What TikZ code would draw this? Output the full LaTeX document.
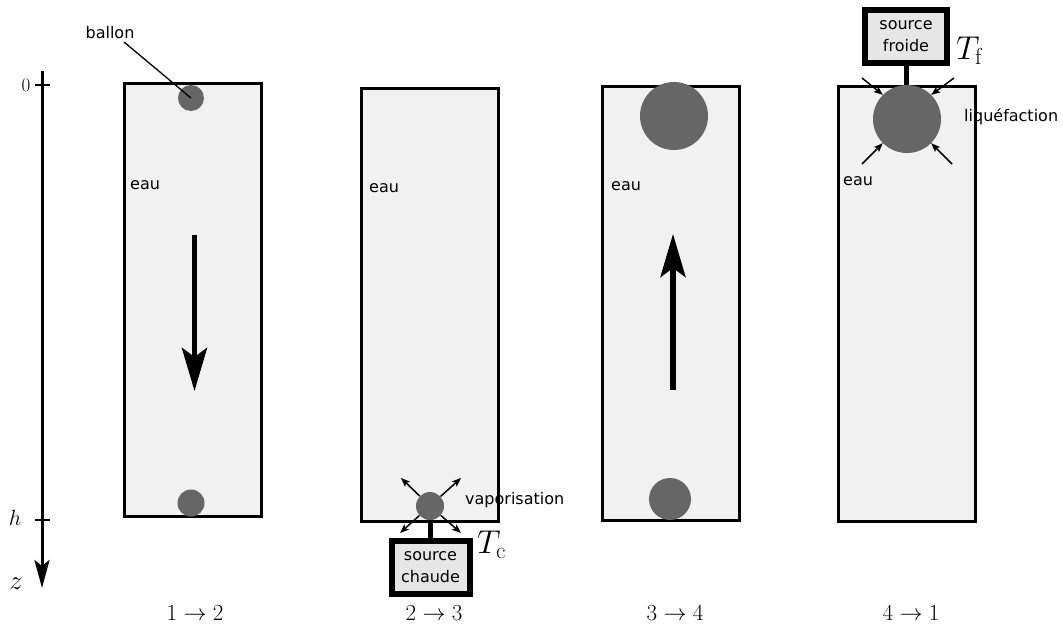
\RequirePackage{fix-cm}
\documentclass[tikz,border=0pt]{standalone}
\usepackage{fontspec}
\newfontfamily\dv{DejaVu Sans}
\usetikzlibrary{arrows.meta}
\definecolor{tankfill}{HTML}{F1F1F1}
\definecolor{srcfill}{HTML}{E6E6E6}
\definecolor{ballc}{HTML}{666666}
\tikzset{
  tank/.style={draw=black, line width=3pt, fill=tankfill, inner sep=0pt},
  ball/.style={circle, fill=ballc, inner sep=0pt},
  src/.style={draw=black, line width=6pt, fill=srcfill, inner sep=0pt, align=center,
    font=\dv\fontsize{16}{22}\selectfont},
  lbl/.style={font=\dv\fontsize{16}{20}\selectfont, inner sep=0pt},
  mlbl/.style={font=\fontsize{23}{26}\selectfont, inner sep=0pt},
  tlbl/.style={font=\fontsize{33}{36}\selectfont, inner sep=0pt, anchor=west},
  bigarrow/.style={line width=5.5pt, -{Stealth[length=43pt, width=25pt, inset=9pt]}},
  axisarrow/.style={line width=3pt, -{Stealth[length=28pt, width=15pt, inset=6pt]}},
  smallarrow/.style={line width=1.5pt, -{Stealth[length=9pt, width=7pt, inset=2pt]}},
  stem/.style={line width=5pt},
}
\begin{document}
\begin{tikzpicture}[x=1pt, y=-1pt]
\useasboundingbox (0,0) rectangle (1063,627);
% axis
\coordinate (ztop) at (42,71);
\coordinate (zbot) at (42,588);
\draw[axisarrow] (ztop) -- (zbot);
\draw[line width=2pt] (35,85) -- (50,85);
\draw[line width=2pt] (35,520) -- (50,520);
\node[mlbl, font=\fontsize{19}{22}\selectfont] (l0) at (26,85) {$0$};
\node[mlbl, font=\fontsize{22}{26}\selectfont] (lh) at (15,518) {$h$};
\node[mlbl, font=\fontsize{27}{30}\selectfont] (lz) at (16,584) {$z$};

% tank 1
\node[tank, minimum width=137pt, minimum height=433pt] (t1) at (192.5,299.5) {};
\node[ball, minimum size=26pt] (p1a) at (191,98) {};
\node[ball, minimum size=27pt] (p1b) at (191,503) {};
\node[lbl] (ballon) at (110,33) {ballon};
\coordinate (bl) at (124,42);
\draw[line width=1.3pt] (bl) -- (p1a.center);
\node[lbl, anchor=west] (e1) at (130,185) {eau};
\coordinate (a1s) at (194.5,235);
\coordinate (a1e) at (194.5,391);
\draw[bigarrow] (a1s) -- (a1e);
\node[mlbl] (c1) at (195,613) {$1\to2$};

% tank 2
\node[tank, minimum width=137pt, minimum height=433pt] (t2) at (429.5,304.5) {};
\node[lbl, anchor=west] (e2) at (369,188) {eau};
\node[src, minimum width=78pt, minimum height=53pt] (sc) at (430.5,567) {source\\chaude};
\draw[stem] (sc.north) -- (430.5,519);
\node[ball, minimum size=28pt] (p2) at (430,506) {};
\coordinate (v1) at (401,478);
\coordinate (v2) at (461,478);
\coordinate (v3) at (400,533);
\coordinate (v4) at (461,533);
\foreach \v in {v1,v2,v3,v4} \draw[smallarrow] (p2) -- (\v);
\node[lbl, anchor=west] (vap) at (465,500) {vaporisation};
\node[tlbl] (tc) at (477,545) {$T_{\mathrm{c}}$};
\node[mlbl] (c2) at (434,613) {$2\to3$};

% tank 3
\node[tank, minimum width=137pt, minimum height=434pt] (t3) at (670.5,303) {};
\node[lbl, anchor=west] (e3) at (611,186) {eau};
\node[ball, minimum size=68pt] (p3a) at (674,116) {};
\node[ball, minimum size=42pt] (p3b) at (670,499) {};
\coordinate (a3s) at (673,390);
\coordinate (a3e) at (673,234);
\draw[bigarrow] (a3s) -- (a3e);
\node[mlbl] (c3) at (675,613) {$3\to4$};

% tank 4
\node[tank, minimum width=137pt, minimum height=435pt] (t4) at (906.5,303.5) {};
\node[src, minimum width=82pt, minimum height=53pt] (sf) at (906,36.5) {source\\froide};
\draw[stem] (sf.south) -- (906,88);
\node[ball, minimum size=68pt] (p4) at (907,119) {};
\coordinate (f1) at (862,78);
\coordinate (f2) at (954,78);
\coordinate (f3) at (862,164);
\coordinate (f4) at (952,164);
\draw[smallarrow] (f1) -- (p4.135);
\draw[smallarrow] (f2) -- (p4.45);
\draw[smallarrow] (f3) -- (p4.225);
\draw[smallarrow] (f4) -- (p4.-45);
\node[lbl, anchor=west] (liq) at (964,117) {liquéfaction};
\node[lbl, anchor=west] (e4) at (843,181) {eau};
\node[tlbl] (tf) at (956,51) {$T_{\mathrm{f}}$};
\node[mlbl] (c4) at (911,613) {$4\to1$};
\end{tikzpicture}
\end{document}
